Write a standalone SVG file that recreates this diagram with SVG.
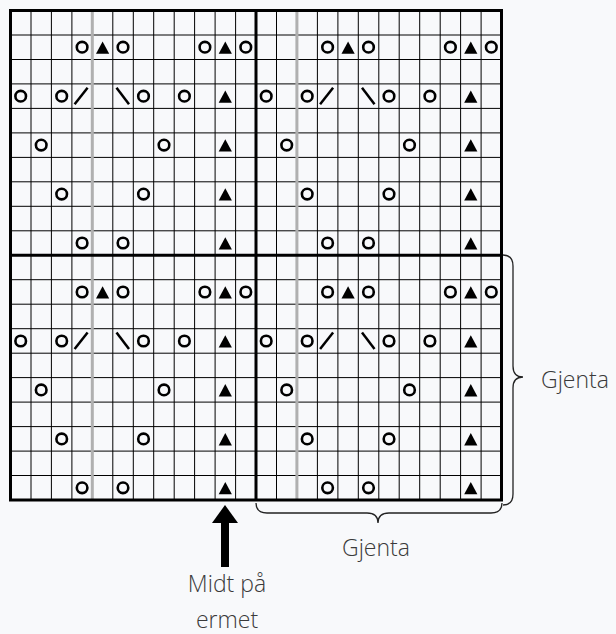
<svg xmlns="http://www.w3.org/2000/svg" xmlns:xlink="http://www.w3.org/1999/xlink" width="616" height="634" viewBox="0 0 616 634">
<style>
.thin{fill:none;stroke:#000;stroke-width:1}
.thick{fill:none;stroke:#000;stroke-width:3}
.gray{fill:none;stroke:#b0b0b0;stroke-width:3}
.brace{fill:none;stroke:#222;stroke-width:1.3}
.lbl{font-family:"Open Sans","DejaVu Sans",sans-serif;font-weight:300;font-size:23px;fill:#3a3a3a}
</style>
<defs>
<circle id="o" r="5.3" fill="none" stroke="#000" stroke-width="2.6"/>
<path id="t" d="M0,-5.8 L6.6,6.5 L-6.6,6.5 Z" fill="#000"/>
<path id="fs" d="M-7.5,8 L5.5,-8.5" stroke="#000" stroke-width="2.5"/>
<path id="bs" d="M-6.5,-8.5 L6,8" stroke="#000" stroke-width="2.5"/>
<g id="block">
<use href="#o" x="71.6" y="36.7"/><use href="#t" x="92.1" y="36.7"/><use href="#o" x="112.5" y="36.7"/>
<use href="#o" x="194.4" y="36.7"/><use href="#t" x="214.8" y="36.7"/><use href="#o" x="235.3" y="36.7"/>
<use href="#o" x="10.2" y="85.7"/><use href="#o" x="51.2" y="85.7"/><use href="#fs" x="71.6" y="85.7"/>
<use href="#bs" x="112.5" y="85.7"/><use href="#o" x="133" y="85.7"/><use href="#o" x="173.9" y="85.7"/><use href="#t" x="214.8" y="85.7"/>
<use href="#o" x="30.7" y="134.6"/><use href="#o" x="153.5" y="134.6"/><use href="#t" x="214.8" y="134.6"/>
<use href="#o" x="51.2" y="183.6"/><use href="#o" x="133" y="183.6"/><use href="#t" x="214.8" y="183.6"/>
<use href="#o" x="71.6" y="232.5"/><use href="#o" x="112.5" y="232.5"/><use href="#t" x="214.8" y="232.5"/>
</g>
</defs>
<rect width="616" height="634" fill="#f8f9fb"/>
<g id="grid">
<path class="thin" d="M31,10.5V500M51.4,10.5V500M71.9,10.5V500M112.8,10.5V500M133.3,10.5V500M153.7,10.5V500M174.2,10.5V500M194.6,10.5V500M215.1,10.5V500M235.6,10.5V500M276.5,10.5V500M317.4,10.5V500M337.9,10.5V500M358.3,10.5V500M378.8,10.5V500M399.2,10.5V500M419.7,10.5V500M440.2,10.5V500M460.6,10.5V500M481.1,10.5V500"/>
<path class="thin" d="M10.5,35H501.5M10.5,59.5H501.5M10.5,83.9H501.5M10.5,108.4H501.5M10.5,132.9H501.5M10.5,157.4H501.5M10.5,181.8H501.5M10.5,206.3H501.5M10.5,230.8H501.5M10.5,279.7H501.5M10.5,304.2H501.5M10.5,328.7H501.5M10.5,353.2H501.5M10.5,377.6H501.5M10.5,402.1H501.5M10.5,426.6H501.5M10.5,451.1H501.5M10.5,475.5H501.5"/>
<path class="gray" d="M92.3,10.5V500M296.9,10.5V500"/>
<path class="thick" d="M256,10.5V500M10.5,255.3H501.5"/>
<rect class="thick" x="10.5" y="10.5" width="491" height="489.5"/>
</g>
<g id="symbols">
<use href="#block" x="10.5" y="10.5"/>
<use href="#block" x="256" y="10.5"/>
<use href="#block" x="10.5" y="255.3"/>
<use href="#block" x="256" y="255.3"/>
</g>
<g id="connectors">
<path class="brace" d="M503,255 Q513,255 513,266 L513,366 Q513,377 523,377 Q513,377 513,388 L513,494 Q513,505 503,505"/>
<path class="brace" d="M256,503 Q256,513 267,513 L367,513 Q378,513 378,523 Q378,513 389,513 L491,513 Q502,513 502,503"/>
<path d="M225,505 L238,523 L212,523 Z" fill="#000"/>
<rect x="221" y="522" width="8" height="45" fill="#000"/>
</g>
<g id="labels">
<text class="lbl" x="541" y="388">Gjenta</text>
<text class="lbl" x="376" y="556" text-anchor="middle">Gjenta</text>
<text class="lbl" x="227" y="592" text-anchor="middle">Midt på</text>
<text class="lbl" x="227" y="628" text-anchor="middle">ermet</text>
</g>
</svg>
